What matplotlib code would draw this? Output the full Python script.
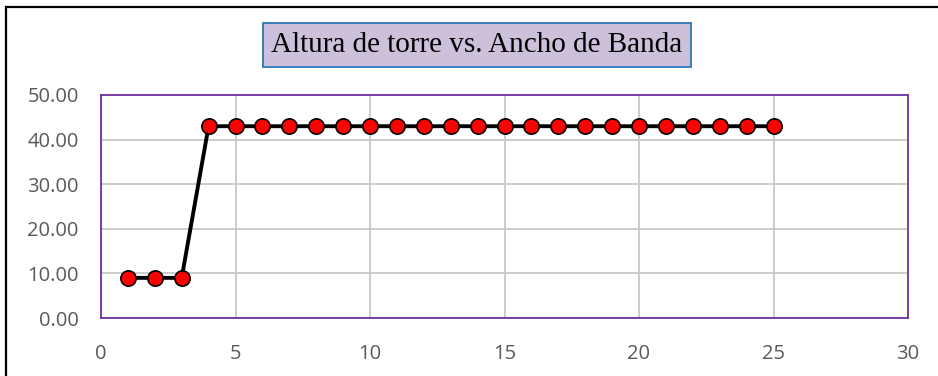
import matplotlib.pyplot as plt
from matplotlib.patches import Rectangle

# data
x_vals = list(range(1, 26))
altura = [9.0, 9.0, 9.0] + [43.0] * 22
x_ticks = [0, 5, 10, 15, 20, 25, 30]
y_ticks = [0, 10, 20, 30, 40, 50]
titulo = "Altura de torre vs. Ancho de Banda"

W, H = 938, 376
fig = plt.figure(figsize=(W / 100, H / 100), dpi=100)
fig.patch.set_facecolor("white")

# outer chart border (runs off right/bottom edge)
fig.patches.append(Rectangle((6 / W, -0.05), 1.2, (H - 7) / H + 0.05,
                             transform=fig.transFigure, fill=False,
                             edgecolor="black", linewidth=1.6))

ax = fig.add_axes([101 / W, 1 - 318 / H, (908 - 101) / W, (318 - 95) / H])
ax.plot(x_vals, altura, color="black", linewidth=2.8, marker="o",
        markersize=11, markerfacecolor="#FF0000", markeredgecolor="black",
        markeredgewidth=1.2, zorder=3, clip_on=False)

ax.set_xlim(0, 30)
ax.set_ylim(0, 50)
ax.set_xticks(x_ticks)
ax.set_yticks(y_ticks)
ax.set_yticklabels(["%.2f" % v for v in y_ticks])
ax.grid(True, color="#C8C8C8", linewidth=1.3)
ax.set_axisbelow(True)
for s in ax.spines.values():
    s.set_color("#7030A0")
    s.set_linewidth(1.3)
ax.tick_params(length=0, labelsize=14.5, labelcolor="#595959")
ax.tick_params(axis="x", pad=19)
ax.tick_params(axis="y", pad=16)
for lab in ax.get_xticklabels() + ax.get_yticklabels():
    lab.set_family("Open Sans")

fig.text(477 / W, 1 - 45 / H, titulo, ha="center", va="center",
         fontsize=21, family="Liberation Serif", color="black",
         bbox=dict(boxstyle="square,pad=0.3", facecolor="#CCC0DA",
                   edgecolor="#2E75B6", linewidth=1.3))

fig.savefig("out.png", dpi=100)
